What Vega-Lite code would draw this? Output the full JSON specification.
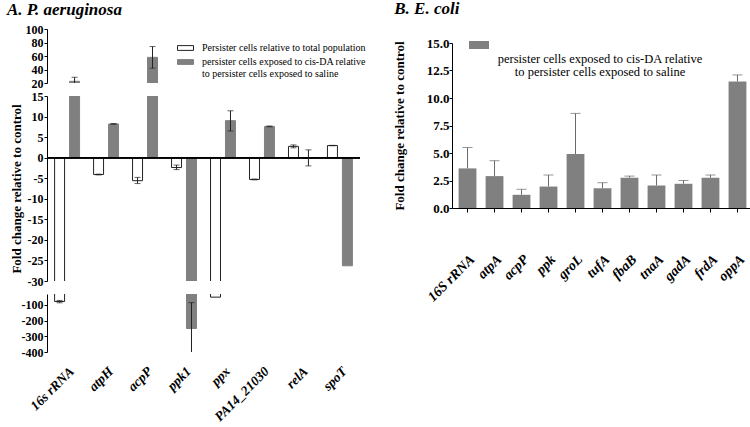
{
  "$schema": "https://vega.github.io/schema/vega-lite/v6.json",
  "background": "white",
  "padding": {"left": 7, "top": 0, "right": 1, "bottom": 0},
  "config": {
    "font": "Liberation Serif",
    "view": {"stroke": null},
    "axis": {"domainColor": "black", "tickColor": "black", "labelColor": "black", "titleColor": "black", "labelFont": "Liberation Serif", "titleFont": "Liberation Serif", "labelFontWeight": "bold", "titleFontWeight": "bold", "grid": false, "domainWidth": 1, "tickWidth": 1, "labelOverlap": false},
    "title": {"font": "Liberation Serif", "fontWeight": "bold", "fontStyle": "italic", "fontSize": 17, "color": "black", "anchor": "start"}
  },
  "datasets": {
    "pa": [
      {"gene": "16s rRNA", "series": "total", "value": -78, "lo": -86, "hi": -71},
      {"gene": "16s rRNA", "series": "cisDA", "value": 22.5, "lo": 16.5, "hi": 28.5},
      {"gene": "atpH", "series": "total", "value": -4.1, "lo": -4.2, "hi": -4.0},
      {"gene": "atpH", "series": "cisDA", "value": 8.2, "lo": 8.1, "hi": 8.3},
      {"gene": "acpP", "series": "total", "value": -5.6, "lo": -6.3, "hi": -4.8},
      {"gene": "acpP", "series": "cisDA", "value": 58, "lo": 42, "hi": 74},
      {"gene": "ppk1", "series": "total", "value": -2.4, "lo": -2.9, "hi": -1.8},
      {"gene": "ppk1", "series": "cisDA", "value": -250, "lo": -410, "hi": -85},
      {"gene": "ppx", "series": "total", "value": -50, "lo": null, "hi": null},
      {"gene": "ppx", "series": "cisDA", "value": 9, "lo": 6.5, "hi": 11.4},
      {"gene": "PA14_21030", "series": "total", "value": -5.3, "lo": -5.4, "hi": -5.2},
      {"gene": "PA14_21030", "series": "cisDA", "value": 7.6, "lo": 7.5, "hi": 7.7},
      {"gene": "relA", "series": "total", "value": 2.75, "lo": 2.4, "hi": 3.1},
      {"gene": "relA", "series": "cisDA", "value": -0.1, "lo": -2.0, "hi": 1.9},
      {"gene": "spoT", "series": "total", "value": 2.95, "lo": 2.9, "hi": 3.0},
      {"gene": "spoT", "series": "cisDA", "value": -26.3, "lo": null, "hi": null}
    ],
    "ec": [
      {"gene": "16S rRNA", "series": "cisDA", "value": 3.6, "hi": 5.5},
      {"gene": "atpA", "series": "cisDA", "value": 2.9, "hi": 4.3},
      {"gene": "acpP", "series": "cisDA", "value": 1.2, "hi": 1.7},
      {"gene": "ppk", "series": "cisDA", "value": 1.95, "hi": 3.0},
      {"gene": "groL", "series": "cisDA", "value": 4.9, "hi": 8.6},
      {"gene": "tufA", "series": "cisDA", "value": 1.8, "hi": 2.3},
      {"gene": "fbaB", "series": "cisDA", "value": 2.75, "hi": 2.9},
      {"gene": "tnaA", "series": "cisDA", "value": 2.05, "hi": 3.0},
      {"gene": "gadA", "series": "cisDA", "value": 2.2, "hi": 2.5},
      {"gene": "frdA", "series": "cisDA", "value": 2.75, "hi": 3.0},
      {"gene": "oppA", "series": "cisDA", "value": 11.5, "hi": 12.1}
    ]
  },
  "resolve": {"scale": {"fill": "independent", "stroke": "independent", "x": "independent", "y": "independent"}, "legend": {"fill": "independent", "stroke": "independent"}},
  "spacing": 26,
  "hconcat": [
    {
      "title": {"text": "A. P. aeruginosa", "offset": 4.5, "dx": -3},
      "bounds": "flush",
      "spacing": 13,
      "resolve": {"scale": {"fill": "independent", "stroke": "independent", "y": "independent"}, "legend": {"fill": "independent", "stroke": "independent"}},
      "vconcat": [
        {
          "width": 313, "height": 54,
          "data": {"name": "pa"},
          "encoding": {
            "x": {"field": "gene", "type": "nominal", "sort": null, "scale": {"paddingInner": 0.36, "paddingOuter": 0.195}, "axis": null},
            "xOffset": {"field": "series", "type": "nominal", "sort": ["total", "cisDA"], "scale": {"domain": ["total", "cisDA"], "paddingInner": 0.333, "paddingOuter": 0}}
          },
          "layer": [
            {"mark": {"type": "bar", "clip": true, "strokeWidth": 1},
             "encoding": {
               "y": {"field": "value", "type": "quantitative", "scale": {"domain": [20, 100], "zero": false, "nice": false}, "axis": {"values": [20, 40, 60, 80, 100], "title": null, "labelFontSize": 12, "tickSize": 3, "labelPadding": 1, "labelOverlap": false}},
               "y2": {"datum": 0},
               "fill": {"field": "series", "type": "nominal", "scale": {"domain": ["total", "cisDA"], "range": ["white", "#808080"]},
                 "legend": {"title": null, "orient": "none", "legendX": 130, "legendY": 10.5, "padding": 0, "symbolType": "M-1,-0.3H1V0.3H-1Z", "symbolSize": 256, "symbolStrokeWidth": 1, "labelFont": "Liberation Serif", "labelFontSize": 10, "labelColor": "black", "labelOffset": 8, "rowPadding": 0, "labelLimit": 400, "labelExpr": "datum.value == 'total' ? 'Persister cells relative to total population' : ['persister cells exposed to cis-DA relative', 'to persister cells exposed to saline']"}},
               "stroke": {"field": "series", "type": "nominal", "scale": {"domain": ["total", "cisDA"], "range": ["#222222", "#808080"]},
                 "legend": {"title": null, "orient": "none", "legendX": 130, "legendY": 10.5, "padding": 0, "symbolType": "M-1,-0.3H1V0.3H-1Z", "symbolSize": 256, "symbolStrokeWidth": 1, "labelFont": "Liberation Serif", "labelFontSize": 10, "labelColor": "black", "labelOffset": 8, "rowPadding": 0, "labelLimit": 400, "labelExpr": "datum.value == 'total' ? 'Persister cells relative to total population' : ['persister cells exposed to cis-DA relative', 'to persister cells exposed to saline']"}}
             }},
            {"mark": {"type": "rule", "clip": true, "color": "#222222"},
             "encoding": {"y": {"field": "lo", "type": "quantitative", "axis": {"values": [20, 40, 60, 80, 100], "title": null, "labelFontSize": 12, "tickSize": 3, "labelPadding": 1, "labelOverlap": false}}, "y2": {"field": "hi"}}},
            {"mark": {"type": "tick", "clip": true, "color": "#222222", "size": 6, "thickness": 1},
             "encoding": {"y": {"field": "lo", "type": "quantitative", "axis": {"values": [20, 40, 60, 80, 100], "title": null, "labelFontSize": 12, "tickSize": 3, "labelPadding": 1, "labelOverlap": false}}}},
            {"mark": {"type": "tick", "clip": true, "color": "#222222", "size": 6, "thickness": 1},
             "encoding": {"y": {"field": "hi", "type": "quantitative", "axis": {"values": [20, 40, 60, 80, 100], "title": null, "labelFontSize": 12, "tickSize": 3, "labelPadding": 1, "labelOverlap": false}}}}
          ]
        },
        {
          "width": 313, "height": 185,
          "data": {"name": "pa"},
          "encoding": {
            "x": {"field": "gene", "type": "nominal", "sort": null, "scale": {"paddingInner": 0.36, "paddingOuter": 0.195}, "axis": null},
            "xOffset": {"field": "series", "type": "nominal", "sort": ["total", "cisDA"], "scale": {"domain": ["total", "cisDA"], "paddingInner": 0.333, "paddingOuter": 0}}
          },
          "layer": [
            {"mark": {"type": "bar", "clip": true, "strokeWidth": 1},
             "encoding": {
               "y": {"field": "value", "type": "quantitative", "scale": {"domain": [-30, 15], "zero": false, "nice": false}, "axis": {"values": [15, 10, 5, 0, -5, -10, -15, -20, -25, -30], "title": "Fold change relative to control", "titleFontSize": 13, "titlePadding": 4, "labelFontSize": 12, "tickSize": 3, "labelPadding": 1, "labelOverlap": false, "labelExpr": "replace(datum.label, '\u2212', '-')"}},
               "y2": {"datum": 0},
               "fill": {"field": "series", "type": "nominal", "scale": {"domain": ["total", "cisDA"], "range": ["white", "#808080"]}, "legend": null},
               "stroke": {"field": "series", "type": "nominal", "scale": {"domain": ["total", "cisDA"], "range": ["#222222", "#808080"]}, "legend": null}
             }},
            {"mark": {"type": "rule", "color": "black", "strokeWidth": 1}, "encoding": {"x": null, "xOffset": null, "y": {"datum": 0, "type": "quantitative", "axis": {"values": [15, 10, 5, 0, -5, -10, -15, -20, -25, -30], "title": "Fold change relative to control", "titleFontSize": 13, "titlePadding": 4, "labelFontSize": 12, "tickSize": 3, "labelPadding": 1, "labelOverlap": false, "labelExpr": "replace(datum.label, '\u2212', '-')"}}}},
            {"mark": {"type": "rule", "clip": true, "color": "#222222"},
             "encoding": {"y": {"field": "lo", "type": "quantitative", "axis": {"values": [15, 10, 5, 0, -5, -10, -15, -20, -25, -30], "title": "Fold change relative to control", "titleFontSize": 13, "titlePadding": 4, "labelFontSize": 12, "tickSize": 3, "labelPadding": 1, "labelOverlap": false, "labelExpr": "replace(datum.label, '\u2212', '-')"}}, "y2": {"field": "hi"}}},
            {"mark": {"type": "tick", "clip": true, "color": "#222222", "size": 6, "thickness": 1},
             "encoding": {"y": {"field": "lo", "type": "quantitative", "axis": {"values": [15, 10, 5, 0, -5, -10, -15, -20, -25, -30], "title": "Fold change relative to control", "titleFontSize": 13, "titlePadding": 4, "labelFontSize": 12, "tickSize": 3, "labelPadding": 1, "labelOverlap": false, "labelExpr": "replace(datum.label, '\u2212', '-')"}}}},
            {"mark": {"type": "tick", "clip": true, "color": "#222222", "size": 6, "thickness": 1},
             "encoding": {"y": {"field": "hi", "type": "quantitative", "axis": {"values": [15, 10, 5, 0, -5, -10, -15, -20, -25, -30], "title": "Fold change relative to control", "titleFontSize": 13, "titlePadding": 4, "labelFontSize": 12, "tickSize": 3, "labelPadding": 1, "labelOverlap": false, "labelExpr": "replace(datum.label, '\u2212', '-')"}}}}
          ]
        },
        {
          "width": 313, "height": 58,
          "data": {"name": "pa"},
          "encoding": {
            "x": {"field": "gene", "type": "nominal", "sort": null, "scale": {"paddingInner": 0.36, "paddingOuter": 0.195}, "axis": {"title": null, "domain": false, "ticks": false, "labelAngle": -45, "labelFontSize": 13.5, "labelFontStyle": "italic", "labelPadding": 12}},
            "xOffset": {"field": "series", "type": "nominal", "sort": ["total", "cisDA"], "scale": {"domain": ["total", "cisDA"], "paddingInner": 0.333, "paddingOuter": 0}}
          },
          "layer": [
            {"mark": {"type": "bar", "clip": true, "strokeWidth": 1},
             "encoding": {
               "y": {"field": "value", "type": "quantitative", "scale": {"domain": [-400, -30], "zero": false, "nice": false}, "axis": {"values": [-100, -200, -300, -400], "title": null, "labelFontSize": 12, "tickSize": 3, "labelPadding": 1, "labelOverlap": false, "labelExpr": "replace(datum.label, '\u2212', '-')"}},
               "y2": {"datum": 0},
               "fill": {"field": "series", "type": "nominal", "scale": {"domain": ["total", "cisDA"], "range": ["white", "#808080"]}, "legend": null},
               "stroke": {"field": "series", "type": "nominal", "scale": {"domain": ["total", "cisDA"], "range": ["#222222", "#808080"]}, "legend": null}
             }},
            {"mark": {"type": "rule", "clip": true, "color": "#222222"},
             "encoding": {"y": {"field": "lo", "type": "quantitative", "axis": {"values": [-100, -200, -300, -400], "title": null, "labelFontSize": 12, "tickSize": 3, "labelPadding": 1, "labelOverlap": false, "labelExpr": "replace(datum.label, '\u2212', '-')"}}, "y2": {"field": "hi"}}},
            {"mark": {"type": "tick", "clip": true, "color": "#222222", "size": 6, "thickness": 1},
             "encoding": {"y": {"field": "lo", "type": "quantitative", "axis": {"values": [-100, -200, -300, -400], "title": null, "labelFontSize": 12, "tickSize": 3, "labelPadding": 1, "labelOverlap": false, "labelExpr": "replace(datum.label, '\u2212', '-')"}}}},
            {"mark": {"type": "tick", "clip": true, "color": "#222222", "size": 6, "thickness": 1},
             "encoding": {"y": {"field": "hi", "type": "quantitative", "axis": {"values": [-100, -200, -300, -400], "title": null, "labelFontSize": 12, "tickSize": 3, "labelPadding": 1, "labelOverlap": false, "labelExpr": "replace(datum.label, '\u2212', '-')"}}}}
          ]
        }
      ]
    },
    {
      "title": {"text": "B. E. coli", "offset": 11, "dx": 1},
      "bounds": "flush",
      "spacing": 0,
      "vconcat": [
        {
          "width": 301, "height": 13.7,
          "data": {"values": [{}]},
          "mark": {"type": "point", "opacity": 0},
          "encoding": {}
        },
        {
          "width": 301, "height": 165,
          "data": {"name": "ec"},
          "encoding": {
            "x": {"field": "gene", "type": "nominal", "sort": null, "scale": {"paddingInner": 0.34, "paddingOuter": 0.245}, "axis": {"title": null, "labelAngle": -45, "labelFontSize": 14, "labelFontStyle": "italic", "labelPadding": 40, "tickSize": 4}}
          },
          "layer": [
            {"mark": {"type": "rule", "color": "#6a6a6a"},
             "encoding": {"y": {"field": "value", "type": "quantitative", "axis": {"values": [0, 2.5, 5, 7.5, 10, 12.5, 15], "format": ".1f", "title": "Fold change relative to control", "titleFontSize": 13, "titlePadding": 20, "labelFontSize": 13, "tickSize": 3, "labelPadding": 0, "labelOverlap": false}}, "y2": {"field": "hi"}}},
            {"mark": {"type": "tick", "color": "#6a6a6a", "size": 10, "thickness": 1},
             "encoding": {"y": {"field": "hi", "type": "quantitative", "axis": {"values": [0, 2.5, 5, 7.5, 10, 12.5, 15], "format": ".1f", "title": "Fold change relative to control", "titleFontSize": 13, "titlePadding": 20, "labelFontSize": 13, "tickSize": 3, "labelPadding": 0, "labelOverlap": false}}}},
            {"mark": {"type": "bar"},
             "encoding": {
               "y": {"field": "value", "type": "quantitative", "scale": {"domain": [0, 15], "nice": false}, "axis": {"values": [0, 2.5, 5, 7.5, 10, 12.5, 15], "format": ".1f", "title": "Fold change relative to control", "titleFontSize": 13, "titlePadding": 20, "labelFontSize": 13, "tickSize": 3, "labelPadding": 0, "labelOverlap": false}},
               "fill": {"field": "series", "type": "nominal", "scale": {"domain": ["cisDA"], "range": ["#808080"]},
                 "legend": {"title": null, "orient": "none", "legendX": 17, "legendY": 6, "padding": 0, "symbolType": "M-1,-0.4H1V0.4H-1Z", "symbolSize": 400, "symbolStrokeWidth": 0, "labelFont": "Liberation Serif", "labelFontSize": 12.5, "labelColor": "black", "labelAlign": "center", "labelBaseline": "top", "labelOffset": 111, "labelLimit": 400, "labelExpr": "['persister cells exposed to cis-DA relative', 'to persister cells exposed to saline']",
                   "encode": {"labels": {"update": {"fontSize": {"value": 12.5}, "lineHeight": {"value": 12.5}, "dy": {"value": 8}}}}}}
             }}
          ]
        }
      ]
    }
  ]
}
